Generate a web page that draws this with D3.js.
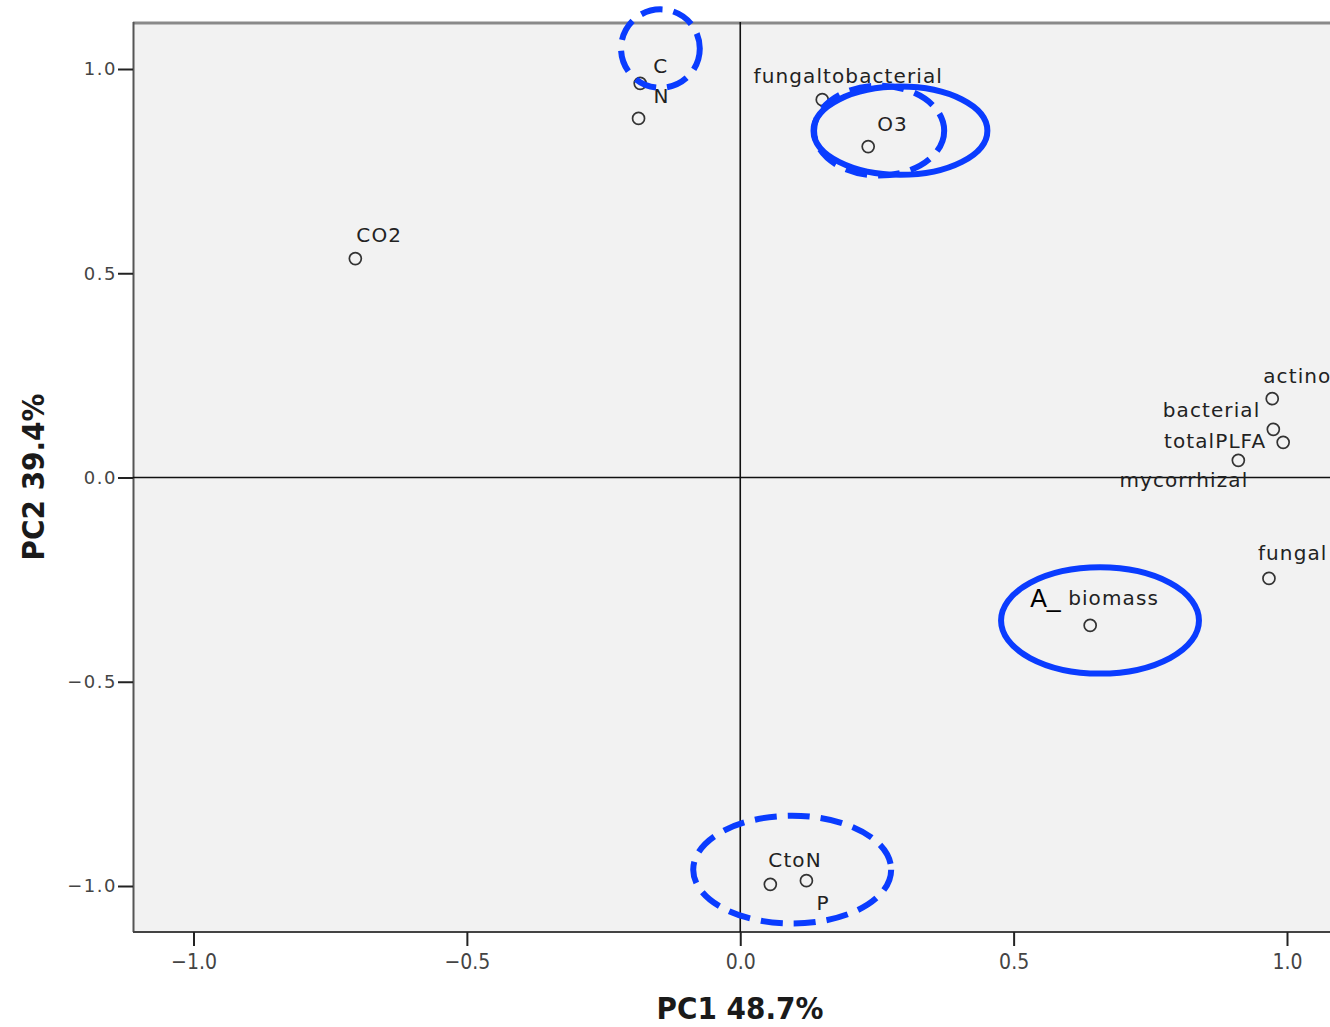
<!DOCTYPE html>
<html><head><meta charset="utf-8">
<script src="https://cdn.jsdelivr.net/npm/d3@7"></script>
<style>body{margin:0;background:#fff}</style>
</head><body>
<script>
// ---- data ----
const names = ["C","N","fungaltobacterial","O3","CO2","actino","bacterial","totalPLFA","mycorrhizal","fungal","biomass","CtoN","P"];
const pc1 = [-0.183,-0.186,0.150,0.234,-0.704,0.973,0.975,0.993,0.911,0.967,0.640,0.055,0.121];
const pc2 = [0.965,0.879,0.925,0.810,0.536,0.193,0.118,0.086,0.042,-0.247,-0.362,-0.996,-0.987];
const xTicks = [-1.0,-0.5,0.0,0.5,1.0];
const yTicks = [1.0,0.5,0.0,-0.5,-1.0];
const xTitle = "PC1 48.7%";
const yTitle = "PC2 39.4%";
// annotation ellipses (data units): cx, cy, rx, ry, dashed
const ellCx = [-0.146, 0.254, 0.293, 0.658, 0.095];
const ellCy = [1.050, 0.849, 0.849, -0.350, -0.960];
const ellRx = [0.072, 0.119, 0.159, 0.181, 0.181];
const ellRy = [0.096, 0.110, 0.108, 0.130, 0.132];
const ellDashed = [true, true, false, false, true];
const annText = "A_";

// ---- layout (label placement offsets, px) ----
const labelPos = {
  C:[13,-10,"start"], N:[15,-15,"start"], fungaltobacterial:[26,-17,"middle"],
  O3:[9,-16,"start"], CO2:[1,-17,"start"], actino:[-9,-16,"start"],
  bacterial:[-13,-12,"end"], totalPLFA:[-17,6,"end"], mycorrhizal:[10,27,"end"],
  fungal:[-11,-18,"start"], biomass:[-22,-20,"start"], CtoN:[-2,-17,"start"], P:[10,29,"start"]
};

const W=1330,H=1027;
const L=133,T=22,B=932,R=1330;
const svg=d3.select("body").append("svg").attr("width",W).attr("height",H);
const x=d3.scaleLinear().domain([-1,1]).range([193.5,1287]);
const y=d3.scaleLinear().domain([-1,1]).range([886,69]);

svg.append("rect").attr("x",L).attr("y",T).attr("width",R-L+5).attr("height",B-T).attr("fill","#f2f2f2");
svg.append("defs").append("clipPath").attr("id","clip").append("rect").attr("x",L).attr("y",T).attr("width",R-L).attr("height",B-T);

// frame
svg.append("line").attr("x1",L).attr("x2",W).attr("y1",T+1).attr("y2",T+1).attr("stroke","#8a8a8a").attr("stroke-width",3);
svg.append("line").attr("x1",L+0.5).attr("x2",L+0.5).attr("y1",T).attr("y2",B).attr("stroke","#555").attr("stroke-width",2);
svg.append("line").attr("x1",L).attr("x2",W).attr("y1",B).attr("y2",B).attr("stroke","#444").attr("stroke-width",2);

// zero lines
const g=svg.append("g").attr("clip-path","url(#clip)");
g.append("line").attr("x1",x(0)).attr("x2",x(0)).attr("y1",T).attr("y2",B).attr("stroke","#111").attr("stroke-width",1.6);
g.append("line").attr("x1",L).attr("x2",R).attr("y1",y(0)).attr("y2",y(0)).attr("stroke","#111").attr("stroke-width",1.6);

// axes
const fmt=d3.format(".1f");
const xAxis=svg.append("g").attr("transform",`translate(0,${B})`)
  .call(d3.axisBottom(x).tickValues(xTicks).tickSize(14).tickFormat(fmt));
xAxis.select(".domain").remove();
xAxis.selectAll(".tick line").attr("stroke","#222").attr("stroke-width",2);
xAxis.selectAll(".tick text").attr("y",22).attr("fill","#444")
  .style("font-family","'DejaVu Sans Condensed','DejaVu Sans'").style("font-size","21px");

const yAxis=svg.append("g").attr("transform",`translate(${L},0)`)
  .call(d3.axisLeft(y).tickValues(yTicks).tickSize(15).tickFormat(fmt));
yAxis.select(".domain").remove();
yAxis.selectAll(".tick line").attr("stroke","#222").attr("stroke-width",2);
yAxis.selectAll(".tick text").attr("x",-16).attr("fill","#444")
  .style("font-family","'DejaVu Sans'").style("font-size","18px").style("letter-spacing","1.5px");

// titles
svg.append("text").attr("x",740).attr("y",1019).attr("text-anchor","middle")
  .style("font-family","'DejaVu Sans Condensed','DejaVu Sans'").style("font-weight","bold").style("font-size","31px")
  .attr("fill","#1a1a1a").text(xTitle);
svg.append("text").attr("transform","translate(44,477) rotate(-90)").attr("text-anchor","middle")
  .style("font-family","'DejaVu Sans Condensed','DejaVu Sans'").style("font-weight","bold").style("font-size","31px")
  .attr("fill","#1a1a1a").text(yTitle);

// points
const pts=names.map((n,i)=>({n,x:pc1[i],y:pc2[i]}));
g.selectAll("circle.pt").data(pts).join("circle").attr("class","pt")
  .attr("cx",d=>x(d.x)).attr("cy",d=>y(d.y)).attr("r",6)
  .attr("fill","none").attr("stroke","#333").attr("stroke-width",1.7);
g.selectAll("text.lbl").data(pts).join("text").attr("class","lbl")
  .attr("x",d=>x(d.x)+labelPos[d.n][0]).attr("y",d=>y(d.y)+labelPos[d.n][1])
  .attr("text-anchor",d=>labelPos[d.n][2])
  .style("font-family","'DejaVu Sans'").style("font-size","20px").style("letter-spacing","1.1px")
  .attr("fill","#222").text(d=>d.n);

// annotations
const ells=ellCx.map((c,i)=>({cx:c,cy:ellCy[i],rx:ellRx[i],ry:ellRy[i],d:ellDashed[i]}));
svg.selectAll("ellipse.ann").data(ells).join("ellipse").attr("class","ann")
  .attr("cx",d=>x(d.cx)).attr("cy",d=>y(d.cy))
  .attr("rx",d=>x(d.rx)-x(0)).attr("ry",d=>y(0)-y(d.ry))
  .attr("fill","none").attr("stroke","#0a3cff").attr("stroke-width",6)
  .attr("stroke-dasharray",d=>d.d?"22,11":null);

const bi=names.indexOf("biomass");
svg.append("text").attr("x",x(pc1[bi])-60).attr("y",y(pc2[bi])-18)
  .style("font-family","'Liberation Sans',Arial").style("font-size","25px").attr("fill","#000").text(annText);
</script>
</body></html>
